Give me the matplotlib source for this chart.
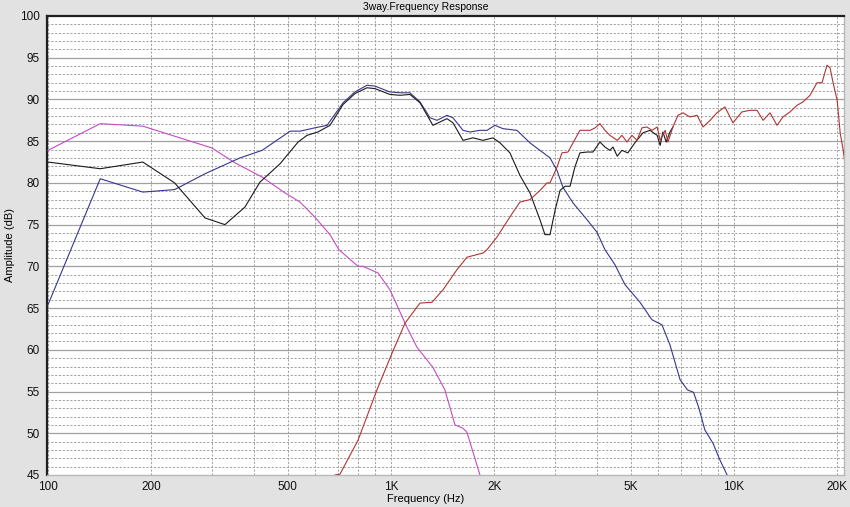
import matplotlib
matplotlib.use("Agg")
import matplotlib.pyplot as plt
from matplotlib.ticker import FixedLocator, NullFormatter, NullLocator

plt.rcParams['font.family'] = ['Liberation Sans', 'DejaVu Sans']

# ---------------- data (Hz, dB) ----------------
woofer_f = [100, 142, 189, 300, 351, 421, 491, 543, 600, 664, 705, 802, 829, 917,
            993, 1113, 1191, 1325, 1436, 1537, 1622, 1666, 1817]
woofer_db = [83.9, 87.1, 86.8, 84.2, 82.4, 80.7, 78.8, 77.7, 75.9, 73.8, 72.0, 70.0,
             70.0, 69.2, 67.2, 62.7, 60.3, 57.9, 55.2, 51.0, 50.6, 50.1, 45.0]

mid_f = [100, 142, 189, 234, 287, 363, 421, 508, 543, 600, 651, 725, 785, 851, 898,
         993, 1062, 1136, 1215, 1300, 1362, 1456, 1516, 1622, 1700, 1817, 1905, 2010,
         2120, 2330, 2542, 2908, 3048, 3170, 3394, 3727, 3985, 4206, 4497, 4813, 5320,
         5767, 6166, 6505, 6966, 7320, 7625, 7890, 8225, 8686, 9100, 9550]
mid_db = [65.4, 80.5, 78.9, 79.2, 81.1, 83.0, 83.9, 86.2, 86.2, 86.6, 86.9, 89.6, 90.9,
          91.7, 91.6, 90.9, 90.8, 90.8, 89.7, 87.8, 87.5, 88.1, 87.8, 86.3, 86.1, 86.3,
          86.3, 86.9, 86.5, 86.3, 84.8, 83.0, 81.5, 79.5, 77.6, 75.6, 74.1, 72.0, 70.2,
          67.8, 65.7, 63.6, 63.0, 60.6, 56.4, 55.2, 54.9, 53.1, 50.4, 48.8, 46.8, 45.0]

sum_f = [100, 142, 189, 234, 287, 328, 375, 415, 475, 536, 569, 612, 664, 725, 785,
         851, 898, 993, 1062, 1136, 1215, 1325, 1456, 1516, 1622, 1734, 1855, 1983,
         2079, 2222, 2377, 2542, 2718, 2811, 2908, 3008, 3111, 3217, 3327, 3437, 3555,
         3727, 3880, 4066, 4206, 4348, 4438, 4567, 4713, 4905, 5140, 5428, 5690, 5970,
         6092, 6206, 6343, 6505, 6637]
sum_db = [82.5, 81.7, 82.5, 80.0, 75.8, 75.0, 77.1, 80.1, 82.3, 84.9, 85.7, 86.1, 86.9,
          89.4, 90.7, 91.4, 91.3, 90.6, 90.5, 90.6, 89.6, 86.9, 87.7, 87.2, 85.1, 85.4,
          85.1, 85.4, 84.8, 83.6, 80.9, 78.8, 75.6, 73.8, 73.8, 76.7, 79.1, 79.6, 79.6,
          81.9, 83.6, 83.7, 83.7, 84.9, 84.3, 83.9, 84.3, 83.2, 83.9, 83.6, 84.8, 86.0,
          86.3, 85.7, 84.5, 86.1, 84.9, 86.1, 86.7]

tweeter_f = [687, 710, 802, 910, 1007, 1099, 1215, 1317, 1418, 1557, 1666, 1855, 1905,
             2036, 2149, 2270, 2377, 2542, 2718, 2850, 2908, 3048, 3151, 3281, 3394,
             3555, 3805, 3936, 4066, 4206, 4348, 4567, 4713, 4876, 5043, 5213, 5393,
             5575, 5767, 5970, 6092, 6300, 6420, 6637, 6866, 7100, 7442, 7804, 8125,
             8518, 8920, 9410, 9933, 10540, 11130, 11670, 12160, 12740, 13350, 13890,
             14560, 15270, 15890, 16660, 17460, 18060, 18670, 19060, 19450, 19990,
             20400, 20820, 21060]
tweeter_db = [45.0, 45.1, 49.2, 55.2, 59.6, 63.2, 65.6, 65.7, 67.2, 69.6, 71.1, 71.6,
              72.0, 73.5, 75.0, 76.5, 77.7, 78.0, 79.1, 80.0, 80.0, 81.9, 83.6, 83.7,
              84.8, 86.3, 86.3, 86.6, 87.1, 86.3, 85.7, 85.1, 85.7, 84.9, 85.7, 85.1,
              86.6, 86.7, 86.3, 86.7, 85.1, 86.3, 84.9, 86.7, 88.1, 88.4, 87.9, 88.1,
              86.7, 87.5, 88.4, 89.1, 87.2, 88.5, 88.7, 88.7, 87.5, 88.4, 86.9, 87.9,
              88.5, 89.3, 89.7, 90.5, 92.0, 92.0, 94.1, 93.8, 92.0, 89.9, 86.0, 83.9,
              82.4]

x_ticks = [100, 200, 500, 1000, 2000, 5000, 10000, 20000]
x_labels = ["100", "200", "500", "1K", "2K", "5K", "10K", "20K"]
y_ticks = list(range(45, 101, 5))
title = "3way.Frequency Response"

# ---------------- figure ----------------
W, H = 850, 507
fig = plt.figure(figsize=(W / 100, H / 100), dpi=100, facecolor="#e2e2e2")
ax = fig.add_axes([46.5 / W, (H - 475) / H, (844 - 46.5) / W, (475 - 16) / H])
ax.set_facecolor("white")
ax.set_xscale("log")
ax.set_xlim(99.0, 20930)
ax.set_ylim(45, 100)

# grid
grid_c = "#a4a4a4"
minor_x = [m * 10 ** d for d in (2, 3) for m in range(1, 10)] + [10000, 20000]
for xv in minor_x:
    ax.axvline(xv, color=grid_c, lw=0.72, ls=(0, (2.2, 1.6)), zorder=1)
for yv in range(46, 100):
    if yv % 5 == 0:
        ax.axhline(yv, color="#a0a0a0", lw=0.9, zorder=1)
    else:
        ax.axhline(yv, color=grid_c, lw=0.72, ls=(0, (2.2, 1.6)), zorder=1)

lw = 0.8
ax.plot(woofer_f, woofer_db, color="#c44cc4", lw=lw, zorder=3)
ax.plot(mid_f, mid_db, color="#36368e", lw=lw, zorder=3)
ax.plot(sum_f, sum_db, color="#1a1a1a", lw=lw, zorder=4)
ax.plot(tweeter_f, tweeter_db, color="#b03434", lw=lw, zorder=5)

ax.xaxis.set_major_locator(FixedLocator(x_ticks))
ax.set_xticklabels(x_labels)
ax.xaxis.set_minor_locator(NullLocator())
ax.xaxis.set_minor_formatter(NullFormatter())
ax.set_yticks(y_ticks)
ax.tick_params(axis="both", length=0, labelsize=8.5, colors="#111111")
ax.tick_params(axis="x", pad=4)
ax.tick_params(axis="y", pad=5)

for s in ("top", "left"):
    ax.spines[s].set_color("#202020")
    ax.spines[s].set_linewidth(1.6)
for s in ("bottom", "right"):
    ax.spines[s].set_color("#b8b8b8")
    ax.spines[s].set_linewidth(1.0)

fig.text(426 / W, 1 - 7 / H, title, ha="center", va="center", fontsize=7.5)
fig.text(426 / W, 1 - 499 / H, "Frequency (Hz)", ha="center", va="center", fontsize=8)
fig.text(10 / W, 1 - 245 / H, "Amplitude (dB)", ha="center", va="center",
         rotation=90, fontsize=8)

fig.savefig("out.png", dpi=100, facecolor=fig.get_facecolor())
